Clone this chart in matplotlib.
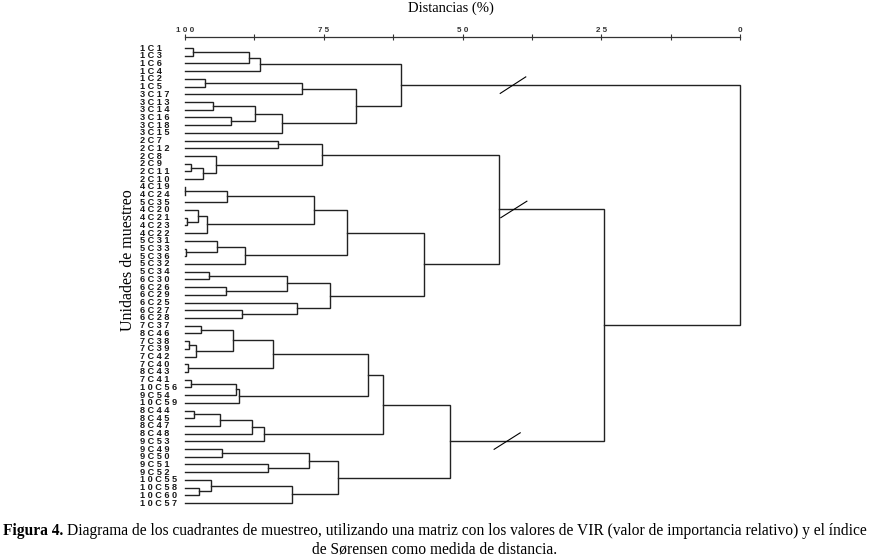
import matplotlib
matplotlib.use("Agg")
import matplotlib.pyplot as plt
import matplotlib.transforms as mtransforms

# Leaf order (top to bottom) of the dendrogram
leaves = ["1C1", "1C3", "1C6", "1C4", "1C2", "1C5", "3C17", "3C13", "3C14", "3C16",
          "3C18", "3C15", "2C7", "2C12", "2C8", "2C9", "2C11", "2C10", "4C19", "4C24",
          "5C35", "4C20", "4C21", "4C23", "4C22", "5C31", "5C33", "5C36", "5C32", "5C34",
          "6C30", "6C26", "6C29", "6C25", "6C27", "6C28", "7C37", "8C46", "7C38", "7C39",
          "7C42", "7C40", "8C43", "7C41", "10C56", "9C54", "10C59", "8C44", "8C45", "8C47",
          "8C48", "9C53", "9C49", "9C50", "9C51", "9C52", "10C55", "10C58", "10C60", "10C57"]

# merges: (cluster name, first child, second child, distance %)
merges_top = [
    ("a1", "1C1", "1C3", 98.5), ("a2", "a1", "1C6", 88.5), ("a3", "a2", "1C4", 86.5),
    ("b1", "1C2", "1C5", 96.4), ("b2", "b1", "3C17", 78.9),
    ("c1", "3C13", "3C14", 94.9), ("c2", "3C16", "3C18", 91.8), ("c3", "c1", "c2", 87.3),
    ("c4", "c3", "3C15", 82.5), ("b3", "b2", "c4", 69.1), ("T", "a3", "b3", 61.1),
]
merges_mid = [
    ("d1", "2C7", "2C12", 83.3), ("d2", "2C9", "2C11", 99.0), ("d3", "d2", "2C10", 96.8),
    ("d4", "2C8", "d3", 94.5), ("D", "d1", "d4", 75.3),
    ("e1", "4C19", "4C24", 100.0), ("e2", "e1", "5C35", 92.4), ("e3", "4C21", "4C23", 99.6),
    ("e4", "4C20", "e3", 97.7), ("e5", "e4", "4C22", 96.0), ("e6", "e2", "e5", 76.7),
    ("f1", "5C33", "5C36", 99.9), ("f2", "5C31", "f1", 94.2), ("f3", "f2", "5C32", 89.1),
    ("E", "e6", "f3", 70.9),
    ("g1", "5C34", "6C30", 95.7), ("g2", "6C26", "6C29", 92.7), ("g3", "g1", "g2", 81.7),
    ("g4", "6C27", "6C28", 89.7), ("g5", "6C25", "g4", 79.8), ("G", "g3", "g5", 73.9),
    ("EG", "E", "G", 56.9), ("M", "D", "EG", 43.4),
]
merges_low = [
    ("h1", "7C37", "8C46", 97.1), ("h2", "7C38", "7C39", 99.3), ("h3", "h2", "7C42", 98.0),
    ("h4", "h1", "h3", 91.3), ("h5", "7C40", "8C43", 99.5), ("h6", "h4", "h5", 84.1),
    ("i1", "7C41", "10C56", 98.9), ("i2", "i1", "9C54", 90.8), ("i3", "i2", "10C59", 90.3),
    ("H", "h6", "i3", 67.1),
    ("j1", "8C44", "8C45", 98.3), ("j2", "j1", "8C47", 93.7), ("j3", "j2", "8C48", 87.9),
    ("j4", "j3", "9C53", 85.8), ("HJ", "H", "j4", 64.4),
    ("k1", "9C49", "9C50", 93.3), ("k2", "9C51", "9C52", 85.0), ("k3", "k1", "k2", 77.7),
    ("l1", "10C58", "10C60", 97.4), ("l2", "10C55", "l1", 95.4), ("l3", "l2", "10C57", 80.7),
    ("KL", "k3", "l3", 72.4), ("B", "HJ", "KL", 52.3),
]
merges_root = [("MB", "M", "B", 24.5), ("root", "T", "MB", 0.0)]

major_ticks = [100, 75, 50, 25, 0]
minor_ticks = [87.5, 62.5, 37.5, 12.5]

caption_bold = "Figura 4."
caption_line1 = ("Diagrama de los cuadrantes de muestreo, utilizando una matriz con los valores "
                 "de VIR (valor de importancia relativo) y el índice")
caption_line2 = "de Sørensen como medida de distancia."

serif = "Liberation Serif"
sans = "Liberation Sans"
W, H = 870, 559
fig = plt.figure(figsize=(W / 100, H / 100), dpi=100)
ax = fig.add_axes([185 / W, 1 - 510 / H, 555 / W, (510 - 37) / H])

# positions: leaves start at 100 %
pos = {name: (100.0, i) for i, name in enumerate(leaves)}
lc = "#222222"
for name, c1, c2, d in merges_top + merges_mid + merges_low + merges_root:
    x1, y1 = pos[c1]
    x2, y2 = pos[c2]
    ax.plot([x1, d, d, x2], [y1, y1, y2, y2], color=lc, lw=1.0,
            solid_joinstyle="miter", clip_on=False)
    pos[name] = (d, (y1 + y2) / 2)

# break marks on the long links
for name, xa, xb in [("T", 43.2, 38.6), ("M", 43.1, 38.4), ("B", 44.3, 39.6)]:
    y = pos[name][1]
    ax.plot([xa, xb], [y + 1.07, y - 1.07], color="black", lw=0.8)

ax.set_xlim(100, 0)
ax.set_ylim(59.9, -1.43)

# leaf labels
tr = mtransforms.blended_transform_factory(ax.transAxes, ax.transData)
for i, name in enumerate(leaves):
    ax.text(-45 / 555, i, " ".join(name), transform=tr, ha="left", va="center",
            fontsize=6.6, fontweight="bold", family=sans, color="#1a1a1a")

for s in ["left", "right", "bottom"]:
    ax.spines[s].set_visible(False)
ax.spines["top"].set_linewidth(0.9)
ax.spines["top"].set_color("#333333")
ax.set_yticks([])
ax.xaxis.tick_top()
ax.set_xticks(major_ticks)
ax.set_xticklabels([" ".join(str(t)) for t in major_ticks], fontsize=5.8,
                   fontweight="bold", family=sans)
ax.set_xticks(minor_ticks, minor=True)
ax.tick_params(axis="x", which="both", direction="inout", length=4, width=0.8,
               pad=0.5, colors="#333333")

fig.text(451 / W, 1 - 8 / H, "Distancias (%)", ha="center", va="center",
         fontsize=10.5, family=serif)
fig.text(128 / W, 1 - 260 / H, "Unidades de muestreo", ha="center", va="center",
         rotation=90, fontsize=11.5, family=serif)

# caption: bold label + rest of first line, sized to span 3..866 px
r = fig.canvas.get_renderer()
fs_cap = 11.0
yb = 1 - 535 / H
t1 = fig.text(3 / W, yb, caption_bold, ha="left", va="baseline", fontsize=fs_cap,
              fontweight="bold", family=serif)
x1 = t1.get_window_extent(renderer=r).x1
t2 = fig.text((x1 + 4) / W, yb, caption_line1, ha="left", va="baseline",
              fontsize=fs_cap, family=serif)
scale = 863 / (t2.get_window_extent(renderer=r).x1 - 3)
fs_cap *= scale
t1.set_fontsize(fs_cap)
x1 = t1.get_window_extent(renderer=r).x1
t2.set_fontsize(fs_cap)
t2.set_x((x1 + 4) / W)
fig.text(0.5, 1 - 553 / H, caption_line2, ha="center", va="baseline", fontsize=fs_cap,
         family=serif)

fig.savefig("out.png", dpi=100)
